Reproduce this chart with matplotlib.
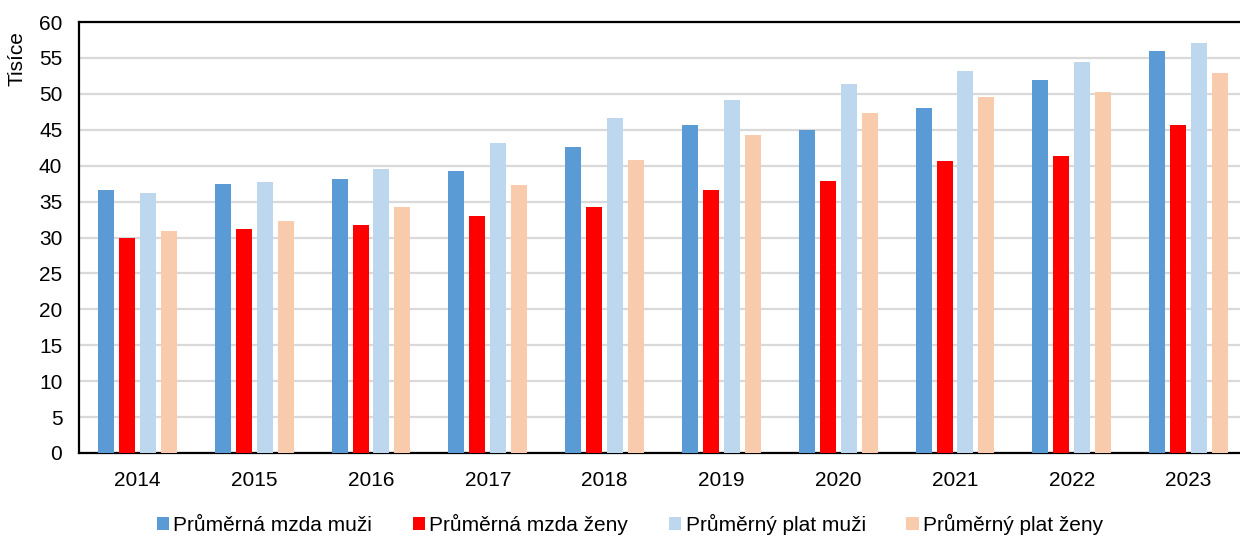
import matplotlib
matplotlib.use("Agg")
import matplotlib.pyplot as plt
import numpy as np
from matplotlib.patches import Patch

plt.rcParams['font.family'] = ['Liberation Sans', 'DejaVu Sans']

years = ["2014", "2015", "2016", "2017", "2018", "2019", "2020", "2021", "2022", "2023"]
mzda_muzi = [36.6, 37.4, 38.2, 39.3, 42.6, 45.7, 44.9, 48.0, 51.9, 56.0]
mzda_zeny = [29.9, 31.2, 31.7, 33.0, 34.3, 36.6, 37.8, 40.6, 41.4, 45.7]
plat_muzi = [36.2, 37.7, 39.5, 43.2, 46.6, 49.1, 51.4, 53.2, 54.4, 57.1]
plat_zeny = [30.9, 32.3, 34.3, 37.3, 40.8, 44.2, 47.3, 49.6, 50.3, 52.9]

series = [
    ("Průměrná mzda muži", mzda_muzi, "#5B9BD5"),
    ("Průměrná mzda ženy", mzda_zeny, "#FF0000"),
    ("Průměrný plat muži", plat_muzi, "#BDD7EE"),
    ("Průměrný plat ženy", plat_zeny, "#F8CBAD"),
]

fig = plt.figure(figsize=(12.4, 5.36), dpi=100)
ax = fig.add_axes([79/1240, 83/536, 1168/1240, 431/536])

x = np.arange(len(years))
step = 0.1795
width = 0.137
for i, (name, vals, col) in enumerate(series):
    ax.bar(x + (i - 1.5) * step, vals, width=width, color=col, zorder=3)

ax.set_xlim(-0.5, len(years) - 0.5)
ax.set_ylim(0, 60)
ax.set_yticks(np.arange(0, 61, 5))
ax.set_xticks(x)
ax.set_xticklabels(years)
ax.tick_params(axis='both', length=0, labelsize=15)
ax.tick_params(axis='x', pad=13)
ax.tick_params(axis='y', pad=12)
ax.grid(axis='y', color='#D9D9D9', linewidth=1.6, zorder=0)
for s in ['left', 'bottom', 'top']:
    ax.spines[s].set_color('black')
    ax.spines[s].set_linewidth(1.6)
ax.spines['right'].set_visible(False)
ax.set_ylabel("Tisíce", fontsize=15)
ax.yaxis.set_label_coords(-0.045, 0.915)

handles = [Patch(facecolor=c, edgecolor='none') for _, _, c in series]
fig.legend(handles, [n for n, _, _ in series], loc='center', bbox_to_anchor=(0.508, 0.022),
           ncol=4, frameon=False, fontsize=15, handlelength=0.6, handleheight=0.6,
           handletextpad=0.2, columnspacing=1.95)

fig.savefig("out.png", dpi=100)
